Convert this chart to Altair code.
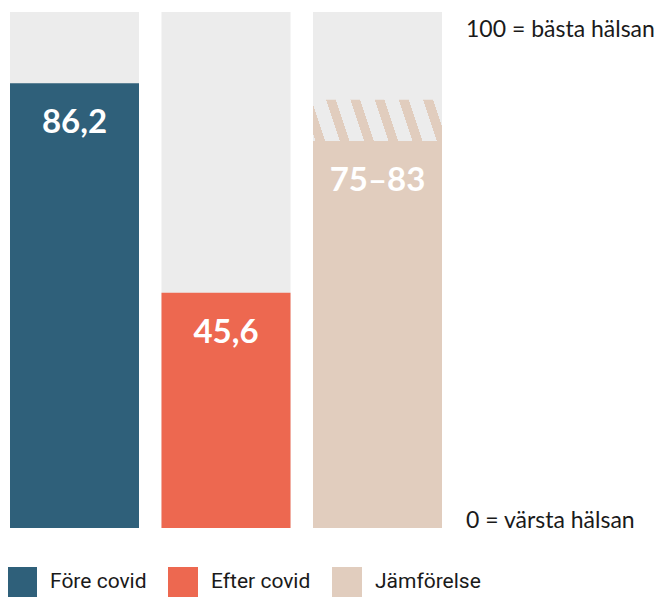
import altair as alt
import pandas as pd

# ---- data ----
categories = ["Före covid", "Efter covid", "Jämförelse"]
values = [86.2, 45.6, 75.0]
range_high = [None, None, 83.0]
labels = ["86,2", "45,6", "75–83"]
bar_colors = ["#2F607A", "#ED6850", "#E1CDBE"]
max_value = [100, 100, 100]

annot_values = [100, 0]
annot_texts = ["100 = bästa hälsan", "0 = värsta hälsan"]

df = pd.DataFrame({
    "cat": categories,
    "value": values,
    "high": range_high,
    "label": labels,
    "max": max_value,
})
annot = pd.DataFrame({"v": annot_values, "t": annot_texts})

# ---- layout ----
W_PLOT, H_PLOT = 432, 516
PAD_INNER = 0.1485
GRAY = "#ECECEC"
BEIGE = "#E1CDBE"

# hatch gradient (diagonal stripes) in bounding-box units
step = W_PLOT / (3 - PAD_INNER)
Wb = step * (1 - PAD_INNER)
Hb = (83.0 - 75.0) * H_PLOT / 100.0
k = 1 / 3.0           # horizontal shift per vertical pixel
period, stripe_w, phase = 24.3, 9.8, 13.0
c = (Wb + k * Hb) / (Wb ** 2 + (k * Hb) ** 2)
x2 = c * Wb
y2 = 1 - c * k * Hb

def t_of(f):
    return min(1.0, max(0.0, (f + k * Hb) / (Wb + k * Hb)))

stops = [alt.GradientStop(color=GRAY, offset=0)]
for n in range(-2, 8):
    a = phase + n * period
    b = a + stripe_w
    if b < -k * Hb or a > Wb:
        continue
    ta, tb = t_of(a), t_of(b)
    stops += [
        alt.GradientStop(color=GRAY, offset=ta),
        alt.GradientStop(color=BEIGE, offset=ta),
        alt.GradientStop(color=BEIGE, offset=tb),
        alt.GradientStop(color=GRAY, offset=tb),
    ]
stops.append(alt.GradientStop(color=GRAY, offset=1))
hatch_fill = alt.LinearGradient(gradient="linear", stops=stops,
                                x1=0, y1=1, x2=x2, y2=y2)

x_enc = alt.X("cat:N", sort=categories, axis=None,
              scale=alt.Scale(paddingInner=PAD_INNER, paddingOuter=0))
y_scale = alt.Scale(domain=[0, 100], nice=False, zero=True)

base = alt.Chart(df)

bg = base.mark_bar(color=GRAY).encode(
    x=x_enc,
    y=alt.Y("max:Q", scale=y_scale, axis=None),
)

bars = base.mark_bar().encode(
    x=x_enc,
    y=alt.Y("value:Q", scale=y_scale, axis=None),
    color=alt.Color(
        "cat:N",
        sort=categories,
        scale=alt.Scale(domain=categories, range=bar_colors),
        legend=alt.Legend(
            title=None,
            orient="none",
            legendX=-3,
            legendY=555,
            direction="horizontal",
            symbolType="square",
            symbolSize=900,
            symbolStrokeWidth=0,
            symbolOpacity=1,
            labelFont="Roboto",
            labelFontSize=21,
            labelColor="#1a1a1a",
            labelOffset=13,
            columnPadding=21,
        ),
    ),
)

hatch = base.transform_filter("datum.high != null").mark_bar(fill=hatch_fill).encode(
    x=x_enc,
    y=alt.Y("value:Q", scale=y_scale, axis=None),
    y2="high:Q",
)

text = base.mark_text(
    color="white", font="Lato", fontWeight="bold", fontSize=33,
    baseline="middle", dy=40,
).encode(
    x=x_enc,
    y=alt.Y("value:Q", scale=y_scale, axis=None),
    text="label:N",
)

annot_top = alt.Chart(annot).transform_filter("datum.v == 100").mark_text(
    align="left", baseline="alphabetic", dy=25, font="Lato", fontSize=23,
    color="#1a1a1a",
).encode(
    x=alt.value(456),
    y=alt.Y("v:Q", scale=y_scale, axis=None),
    text="t:N",
)
annot_bot = alt.Chart(annot).transform_filter("datum.v == 0").mark_text(
    align="left", baseline="alphabetic", dy=0, font="Lato", fontSize=23,
    color="#1a1a1a",
).encode(
    x=alt.value(456),
    y=alt.Y("v:Q", scale=y_scale, axis=None),
    text="t:N",
)

chart = alt.layer(bg, bars, hatch, text, annot_top, annot_bot).properties(
    width=W_PLOT,
    height=H_PLOT,
    autosize=alt.AutoSizeParams(type="none"),
    padding={"left": 2, "top": 4, "right": 215, "bottom": 70},
).configure_view(stroke=None)

chart.save("out.html", embed_options={"renderer": "svg", "actions": False})
